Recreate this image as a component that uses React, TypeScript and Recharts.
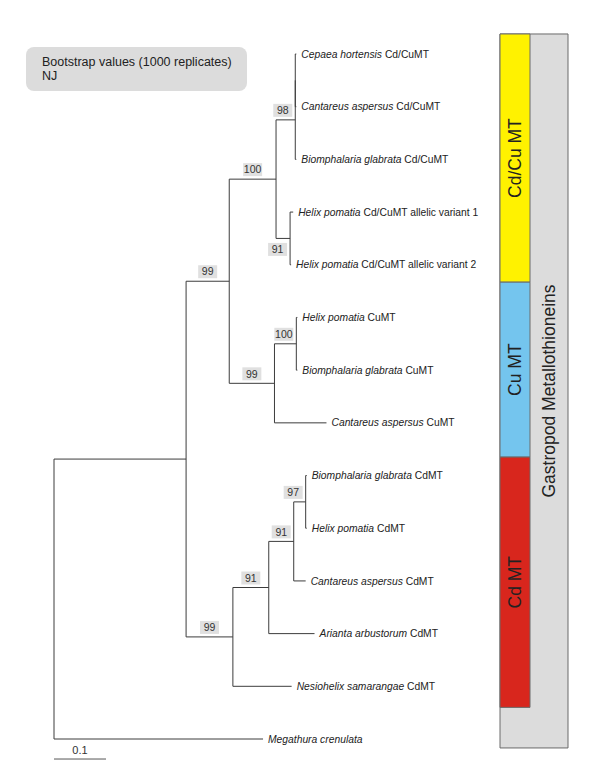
import { ScatterChart, Scatter, XAxis, YAxis, ReferenceLine, ReferenceArea } from 'recharts';

// tips, top to bottom (row index = position in the list)
const taxa = [
  'Cepaea hortensis', 'Cantareus aspersus', 'Biomphalaria glabrata', 'Helix pomatia', 'Helix pomatia',
  'Helix pomatia', 'Biomphalaria glabrata', 'Cantareus aspersus',
  'Biomphalaria glabrata', 'Helix pomatia', 'Cantareus aspersus', 'Arianta arbustorum', 'Nesiohelix samarangae',
  'Megathura crenulata',
];
const suffixes = [
  'Cd/CuMT', 'Cd/CuMT', 'Cd/CuMT', 'Cd/CuMT allelic variant 1', 'Cd/CuMT allelic variant 2',
  'CuMT', 'CuMT', 'CuMT',
  'CdMT', 'CdMT', 'CdMT', 'CdMT', 'CdMT',
  '',
];
const tipLengths = [0.002, 0.002, 0.002, 0.006, 0.002, 0.002, 0.002, 0.1, 0.002, 0.002, 0.023, 0.088, 0.113, 0.402];

// internal nodes (t# = tip #)
const nodeIds = ['root', 'A', 'B', 'C', 'D', 'D0', 'E', 'F', 'G', 'H', 'I', 'J', 'K'];
const nodeChildren = [
  ['A', 't13'], ['B', 'H'], ['C', 'F'], ['D', 'E'], ['D0', 't2'], ['t0', 't1'], ['t3', 't4'],
  ['G', 't7'], ['t5', 't6'], ['I', 't12'], ['J', 't11'], ['K', 't10'], ['t8', 't9'],
];
const nodeLengths = [0, 0.254, 0.083, 0.09, 0.037, 0, 0.027, 0.087, 0.042, 0.09, 0.069, 0.048, 0.023];
const bootstraps = [null, null, 99, 100, 98, null, 91, 99, 100, 99, 91, 91, 97];
const labelBelow = ['E'];

// clade bands, in tip-row units
const groupNames = ['Cd/Cu MT', 'Cu MT', 'Cd MT'];
const groupFrom = [-0.38, 4.33, 7.65];
const groupTo = [4.33, 7.65, 12.4];
const groupColors = ['#fff200', '#74c5ee', '#d8261d'];
const familyName = 'Gastropod Metallothioneins';
const familyFrom = -0.38;
const familyTo = 13.17;

const scaleBarLength = 0.1;
const scaleBarRow = 13.38;

const W = 600;
const H = 781;
const ROOT_PX = 54;
const UNIT_PX = 520; // px per substitution/site
const TOP_PX = 54;
const ROW_PX = (739 - TOP_PX) / 13;
const X_DOMAIN = [-ROOT_PX / UNIT_PX, (W - ROOT_PX) / UNIT_PX];
const Y_DOMAIN = [-TOP_PX / ROW_PX, (H - TOP_PX) / ROW_PX];
const fromPx = (px: number) => (px - ROOT_PX) / UNIT_PX;
const FONT = '"Liberation Sans", Arial, sans-serif';
const LINE = '#3c3c3c';

// layout: x = distance from root, y = mean of children rows
type P = { x: number; y: number };
const pos: Record<string, P> = {};
const parentOf: Record<string, string> = {};
nodeIds.forEach((id, i) => nodeChildren[i].forEach((c) => (parentOf[c] = id)));
const isTip = (id: string) => id.startsWith('t');
const lengthOf = (id: string) => (isTip(id) ? tipLengths[+id.slice(1)] : nodeLengths[nodeIds.indexOf(id)]);
function place(id: string, x0: number): P {
  const x = x0 + lengthOf(id);
  if (isTip(id)) {
    pos[id] = { x, y: +id.slice(1) };
    return pos[id];
  }
  const kids = nodeChildren[nodeIds.indexOf(id)].map((c) => place(c, x));
  pos[id] = { x, y: kids.reduce((s, k) => s + k.y, 0) / kids.length };
  return pos[id];
}
place('root', 0);

const segments: { x: number; y: number }[][] = [];
nodeIds.forEach((id, i) => {
  const p = pos[id];
  const ys = nodeChildren[i].map((c) => pos[c].y);
  segments.push([{ x: p.x, y: Math.min(...ys) }, { x: p.x, y: Math.max(...ys) }]);
  nodeChildren[i].forEach((c) => {
    if (pos[c].x > p.x) segments.push([{ x: p.x, y: pos[c].y }, { x: pos[c].x, y: pos[c].y }]);
  });
});

const tipData = taxa.map((t, i) => ({ x: pos['t' + i].x, y: i, taxon: t, suffix: suffixes[i] }));

const BOX_W = 19;
const bootData = nodeIds
  .map((id, i) => {
    if (bootstraps[i] == null) return null;
    const p = pos[id];
    const px = pos[parentOf[id]].x;
    const mid = Math.min((px + p.x) / 2, p.x - (3 + BOX_W / 2) / UNIT_PX);
    return { x: mid, y: p.y, value: bootstraps[i], below: labelBelow.includes(id) };
  })
  .filter(Boolean);

const TipLabel = (props: any) => {
  const { cx, cy, payload } = props;
  return (
    <text x={cx + 5} y={cy} dy="0.35em" fontSize={10.3} fontFamily={FONT} fill="#222">
      <tspan fontStyle="italic">{payload.taxon}</tspan>
      {payload.suffix ? ' ' + payload.suffix : ''}
    </text>
  );
};

const BootLabel = (props: any) => {
  const { cx, cy, payload } = props;
  const top = payload.below ? cy + 4.5 : cy - 16;
  return (
    <g>
      <rect x={cx - BOX_W / 2} y={top} width={BOX_W} height={13} fill="#e0e0e0" />
      <text x={cx} y={top + 6.5} dy="0.35em" textAnchor="middle" fontSize={10.5} fontFamily={FONT} fill="#333">
        {payload.value}
      </text>
    </g>
  );
};

const BandLabel = (props: any) => {
  const { viewBox, text, shift = 0 } = props;
  const cx = viewBox.x + viewBox.width / 2 + shift;
  const cy = viewBox.y + viewBox.height / 2;
  return (
    <text
      x={cx}
      y={cy}
      transform={`rotate(-90 ${cx} ${cy})`}
      textAnchor="middle"
      dominantBaseline="central"
      fontSize={17.5}
      fontFamily={FONT}
      fill="#222"
    >
      {text}
    </text>
  );
};

export default function App() {
  return (
    <div style={{ position: 'absolute', left: 0, top: 0, width: W, height: H, background: '#fff' }}>
      <ScatterChart width={W} height={H} margin={{ top: 0, right: 0, bottom: 0, left: 0 }}>
        <XAxis type="number" dataKey="x" domain={X_DOMAIN} allowDataOverflow hide />
        <YAxis type="number" dataKey="y" domain={Y_DOMAIN} allowDataOverflow reversed hide />

        <ReferenceArea
          x1={fromPx(500)}
          x2={fromPx(568)}
          y1={familyFrom}
          y2={familyTo}
          fill="#dcdcdc"
          fillOpacity={1}
          stroke="#6a6a6a"
          ifOverflow="visible"
          label={<BandLabel text={familyName} shift={15} />}
        />
        {groupNames.map((g, i) => (
          <ReferenceArea
            key={g}
            x1={fromPx(500)}
            x2={fromPx(530)}
            y1={groupFrom[i]}
            y2={groupTo[i]}
            fill={groupColors[i]}
            fillOpacity={1}
            stroke="#6a6a6a"
            ifOverflow="visible"
            label={<BandLabel text={g} />}
          />
        ))}

        {segments.map((s, i) => (
          <ReferenceLine key={i} segment={s} stroke={LINE} strokeWidth={1} ifOverflow="visible" />
        ))}

        <ReferenceLine
          segment={[{ x: 0, y: scaleBarRow }, { x: scaleBarLength, y: scaleBarRow }]}
          stroke="#555"
          strokeWidth={1}
          ifOverflow="visible"
          label={{ value: '0.1', position: 'top', fontSize: 11, fill: '#333', fontFamily: FONT }}
        />

        <Scatter data={bootData} shape={<BootLabel />} isAnimationActive={false} />
        <Scatter data={tipData} shape={<TipLabel />} isAnimationActive={false} />
      </ScatterChart>
      <div
        style={{
          position: 'absolute',
          left: 26,
          top: 47,
          width: 221,
          height: 44,
          boxSizing: 'border-box',
          background: '#dcdcdc',
          borderRadius: 8,
          padding: '9px 0 0 16px',
          fontFamily: FONT,
          fontSize: 12.5,
          lineHeight: '13.5px',
          color: '#222',
        }}
      >
        Bootstrap values (1000 replicates)
        <br />
        NJ
      </div>
    </div>
  );
}
